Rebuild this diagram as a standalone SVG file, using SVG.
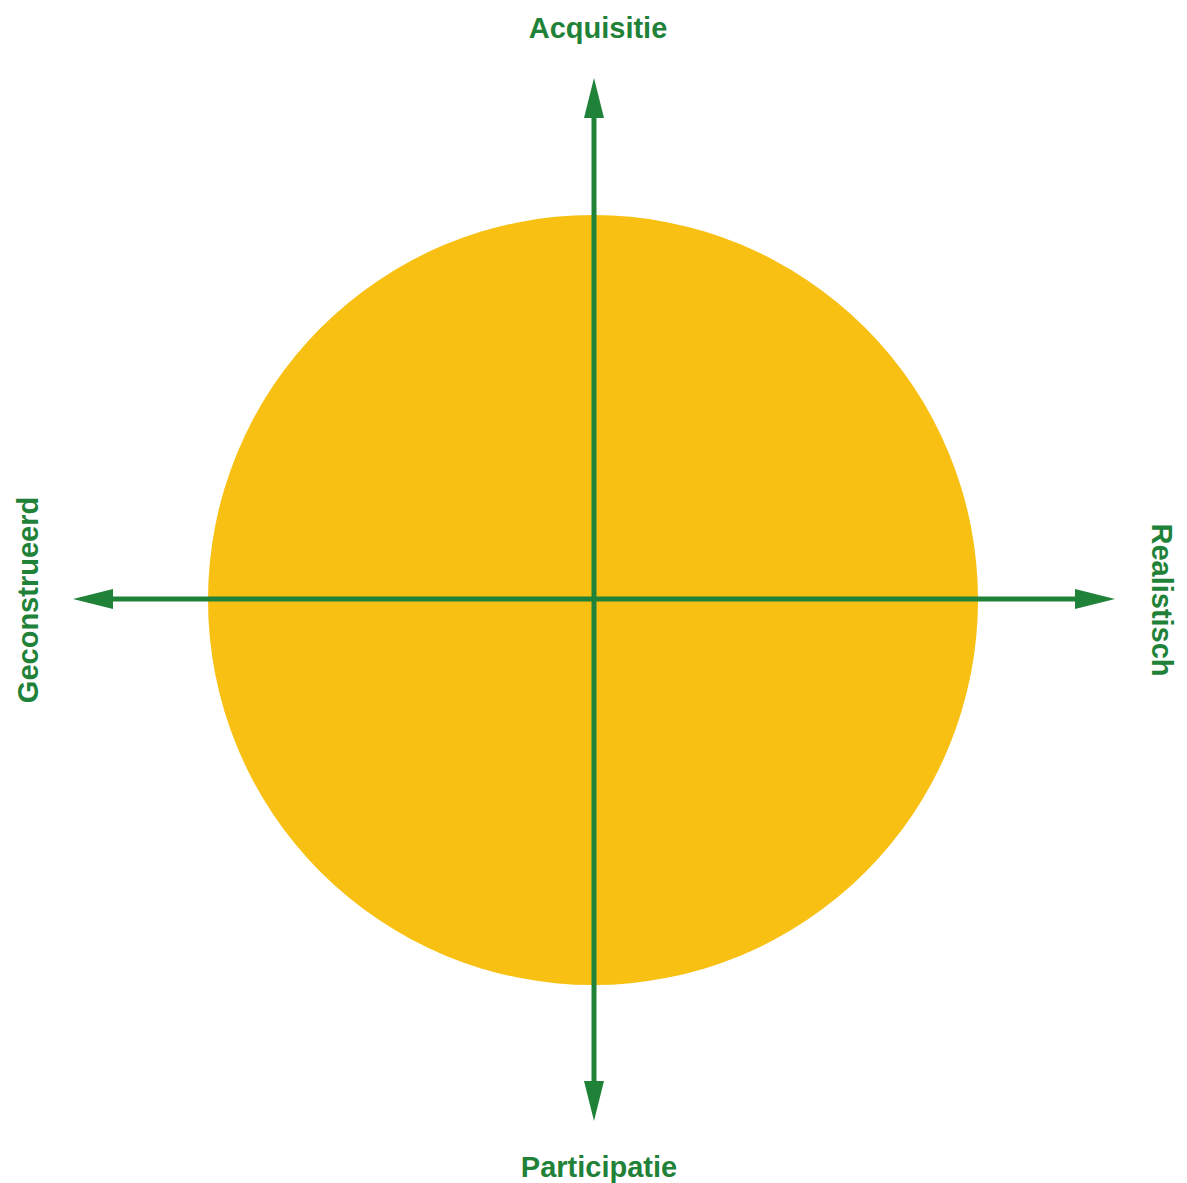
<svg xmlns="http://www.w3.org/2000/svg" width="1187" height="1183" viewBox="0 0 1187 1183">
<style>
.lbl{font-family:"Liberation Sans",Arial,sans-serif;font-weight:bold;font-size:29px;fill:#1f8238;text-anchor:middle}
.ax{stroke:#1f8238;stroke-width:5;fill:none}
</style>
<defs>
<marker id="ah" viewBox="0 0 40 20" refX="2" refY="10" markerWidth="40" markerHeight="20" markerUnits="userSpaceOnUse" orient="auto">
<path d="M0,0 L40,10 L0,20 Z" fill="#1f8238"/>
</marker>
</defs>
<rect width="1187" height="1183" fill="#ffffff"/>
<g id="circle"><circle cx="593" cy="600" r="385" fill="#f8c012"/></g>
<g id="connectors">
<line class="ax" x1="594" y1="600" x2="594" y2="116" marker-end="url(#ah)"/>
<line class="ax" x1="594" y1="600" x2="594" y2="1083" marker-end="url(#ah)"/>
<line class="ax" x1="594" y1="599" x2="111" y2="599" marker-end="url(#ah)"/>
<line class="ax" x1="594" y1="599" x2="1077" y2="599" marker-end="url(#ah)"/>
</g>
<g id="acquisitie"><text class="lbl" x="598" y="38">Acquisitie</text></g>
<g id="participatie"><text class="lbl" x="599" y="1177">Participatie</text></g>
<g id="geconstrueerd"><text class="lbl" transform="translate(38,600) rotate(-90)">Geconstrueerd</text></g>
<g id="realistisch"><text class="lbl" transform="translate(1152,600) rotate(90)">Realistisch</text></g>
</svg>
